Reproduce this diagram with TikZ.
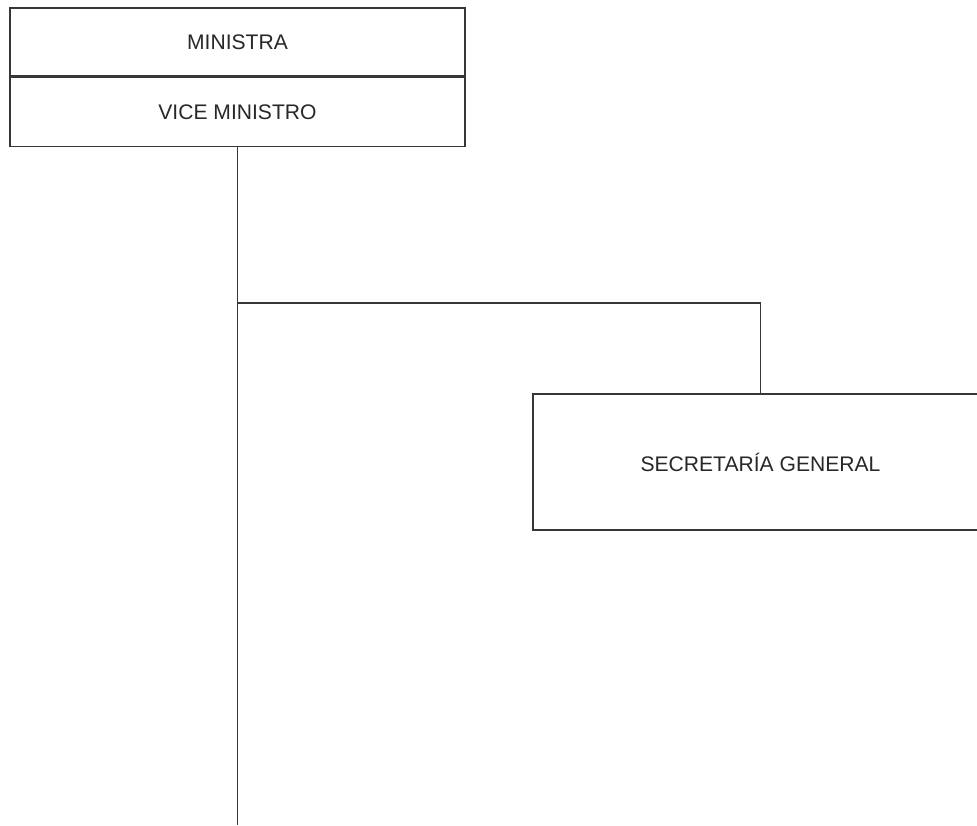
\documentclass[tikz,border=0pt]{standalone}
\usepackage{xcolor}
\usepackage{fontspec}
\setmainfont{Liberation Sans}
\usepackage{tikz}
\usetikzlibrary{positioning,calc}
\definecolor{linegray}{RGB}{55,55,55}
\definecolor{textgray}{RGB}{40,40,40}

\begin{document}
\begin{tikzpicture}[
    box/.style={rectangle, draw=linegray, line width=1.1pt, fill=white, align=center, minimum width=11.375cm, text=textgray, font=\fontsize{15}{18}\selectfont},
    link/.style={draw=linegray, line width=1.1pt}
]
    \useasboundingbox (0,0) rectangle (24.425,-20.625);

    \node[box, minimum height=1.7cm] (ministra) at (5.9375,-1.05) {MINISTRA};
    \node[box, minimum height=1.725cm, below=0pt of ministra] (vice) {VICE MINISTRO};
    \node[box, minimum height=3.4cm] (sec) at (19.0125,-11.55) {SECRETARÍA GENERAL};

    \coordinate (branch) at (vice.south |- 0,-7.575);
    \coordinate (bottom) at (vice.south |- 0,-20.625);

    \draw[link] (vice) -- (bottom);
    \draw[link] (branch) -| (sec.north);
\end{tikzpicture}
\end{document}
